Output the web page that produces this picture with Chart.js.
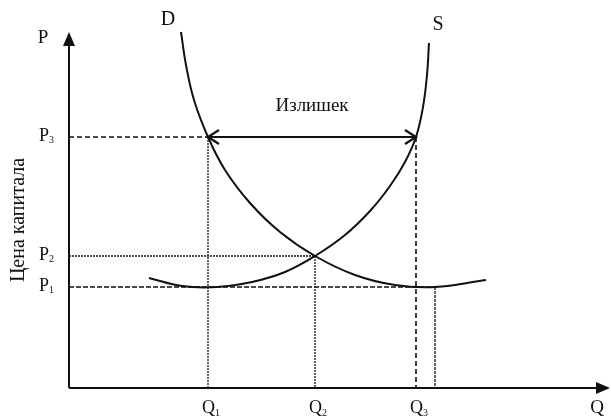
<!DOCTYPE html>
<html>
<head>
<meta charset="utf-8">
<script src="https://cdn.jsdelivr.net/npm/chart.js@4.4.1/dist/chart.umd.min.js"></script>
<style>
  body { margin: 0; background: #fff; }
</style>
</head>
<body>
<canvas id="capitalChart" width="611" height="418"></canvas>
<script>
// values are in diagram units, origin where the axes cross
const qValues = [139, 246, 347, 366];   // Q1, Q2, Q3, point where D meets P1
const pValues = [101, 132, 251];        // P1, P2, P3
const qLabels = ['Q1', 'Q2', 'Q3'];
const pLabels = ['P1', 'P2', 'P3'];

// demand curve D
const demandX = [112, 117, 125, 139, 156, 181, 211, 246, 286, 326, 366, 417];
const demandY = [356, 323, 288, 251, 218, 185, 156, 132, 113, 103, 101, 108];
// supply curve S
const supplyX = [80, 113, 148, 183, 216, 246, 276, 301, 321, 336, 347, 354, 358, 360];
const supplyY = [110, 102, 101, 106, 116, 132, 153, 177, 202, 226, 251, 281, 313, 345];

const axisMax = { x: 541, y: 356 };

const ink = '#111';
const serif = '"Liberation Serif", "Times New Roman", serif';

const [Q1, Q2, Q3, Q4] = qValues;
const [P1, P2, P3] = pValues;

const toPoints = (xs, ys) => xs.map((v, i) => ({ x: v, y: ys[i] }));

function guide(points, dash, width) {
    return {
        data: points,
        borderColor: ink,
        borderWidth: width || 1.3,
        borderDash: dash,
        pointRadius: 0,
        tension: 0
    };
}

// label with the digits drawn as a subscript
function subLabel(ctx, text, x, y, size, drop) {
    const main = text[0];
    const sub = text.slice(1);
    ctx.font = size + 'px ' + serif;
    const w = ctx.measureText(main).width;
    ctx.fillText(main, x, y);
    ctx.font = Math.round(size * 0.55) + 'px ' + serif;
    ctx.fillText(sub, x + w, y + drop);
}

const drawExtras = {
    id: 'drawExtras',
    afterDatasetsDraw(chart) {
        const { ctx, scales: { x, y } } = chart;
        const px = v => x.getPixelForValue(v);
        const py = v => y.getPixelForValue(v);
        ctx.save();
        ctx.fillStyle = ink;
        ctx.strokeStyle = ink;

        // axis arrowheads
        let ax = px(0), ay = py(axisMax.y);
        ctx.beginPath();
        ctx.moveTo(ax, ay);
        ctx.lineTo(ax - 6, ay + 14);
        ctx.lineTo(ax + 6, ay + 14);
        ctx.closePath();
        ctx.fill();
        ax = px(axisMax.x); ay = py(0);
        ctx.beginPath();
        ctx.moveTo(ax, ay);
        ctx.lineTo(ax - 14, ay - 6);
        ctx.lineTo(ax - 14, ay + 6);
        ctx.closePath();
        ctx.fill();

        // surplus arrow chevrons
        ctx.lineWidth = 2.2;
        const yA = py(P3);
        [[px(Q1), 1], [px(Q3), -1]].forEach(([xA, dir]) => {
            ctx.beginPath();
            ctx.moveTo(xA + dir * 11, yA - 7);
            ctx.lineTo(xA, yA);
            ctx.lineTo(xA + dir * 11, yA + 7);
            ctx.stroke();
        });

        // price tick labels
        ctx.textAlign = 'left';
        ctx.textBaseline = 'middle';
        pValues.forEach((v, i) => subLabel(ctx, pLabels[i], 39, py(v) - 1, 18, 4));
        // quantity tick labels
        ctx.textBaseline = 'alphabetic';
        qLabels.forEach((lab, i) => subLabel(ctx, lab, px(qValues[i]) - 6, 413, 18, 3));

        // axis names
        ctx.font = '19px ' + serif;
        ctx.textAlign = 'center';
        ctx.textBaseline = 'middle';
        ctx.fillText('P', 43, 38);
        ctx.fillText('Q', 597, 408);

        // curve names
        ctx.font = '20px ' + serif;
        ctx.fillText('D', 168, 20);
        ctx.fillText('S', 438, 25);

        ctx.font = '19px ' + serif;
        ctx.fillText('Излишек', 312, 106);

        // vertical axis title
        ctx.save();
        ctx.translate(19, 220);
        ctx.rotate(-Math.PI / 2);
        ctx.font = '20px ' + serif;
        ctx.fillText('Цена капитала', 0, 0);
        ctx.restore();

        ctx.restore();
    }
};

new Chart(document.getElementById('capitalChart'), {
    type: 'scatter',
    data: {
        datasets: [
            // axes
            guide([{ x: 0, y: 0 }, { x: 0, y: axisMax.y - 8 }], [], 2),
            guide([{ x: 0, y: 0 }, { x: axisMax.x - 8, y: 0 }], [], 2),
            // price guides
            guide([{ x: 0, y: P3 }, { x: Q1, y: P3 }], [5, 3]),
            guide([{ x: 0, y: P2 }, { x: Q2, y: P2 }], [2, 1]),
            guide([{ x: 0, y: P1 }, { x: Q4, y: P1 }], [5, 2]),
            // quantity guides
            guide([{ x: Q1, y: P3 }, { x: Q1, y: 0 }], [2, 1]),
            guide([{ x: Q2, y: P2 }, { x: Q2, y: 0 }], [2, 1]),
            guide([{ x: Q3, y: P3 }, { x: Q3, y: 0 }], [5, 3], 1.6),
            guide([{ x: Q4, y: P1 }, { x: Q4, y: 0 }], [3, 1]),
            // surplus arrow shaft
            guide([{ x: Q1, y: P3 }, { x: Q3, y: P3 }], [], 2),
            {
                label: 'D',
                data: toPoints(demandX, demandY),
                borderColor: ink,
                borderWidth: 2,
                pointRadius: 0,
                tension: 0.4
            },
            {
                label: 'S',
                data: toPoints(supplyX, supplyY),
                borderColor: ink,
                borderWidth: 2,
                pointRadius: 0,
                tension: 0.4
            }
        ]
    },
    options: {
        responsive: false,
        animation: false,
        showLine: true,
        clip: false,
        layout: { padding: { left: 69, right: 1, top: 32, bottom: 30 } },
        scales: {
            x: { type: 'linear', display: false, min: 0, max: axisMax.x },
            y: { type: 'linear', display: false, min: 0, max: axisMax.y }
        },
        plugins: {
            legend: { display: false },
            tooltip: { enabled: false }
        }
    },
    plugins: [drawExtras]
});
</script>
</body>
</html>
